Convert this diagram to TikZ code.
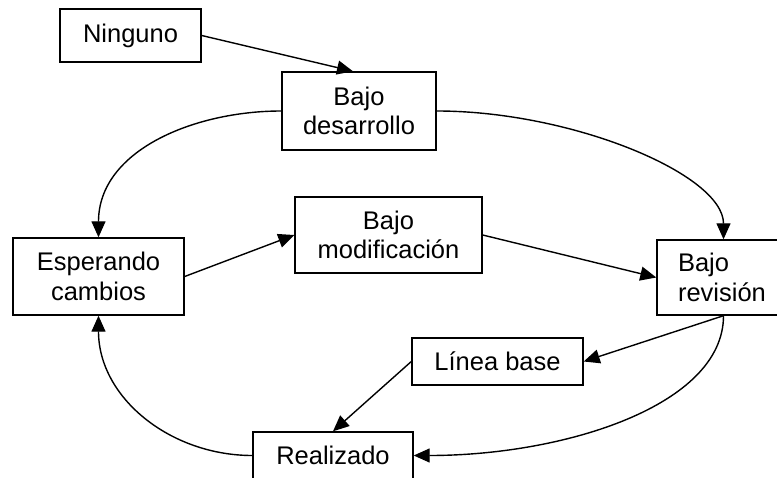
\documentclass[tikz,border=0pt]{standalone}
\usepackage{fontspec}
\setmainfont{Liberation Sans}
\usetikzlibrary{arrows.meta}
\begin{document}
\begin{tikzpicture}[x=1bp, y=-1bp,
  state/.style={draw, line width=1.4bp, inner sep=0pt, align=center,
    font=\fontsize{25.5bp}{29.5bp}\selectfont},
  link/.style={line width=1.4bp, -{Triangle[length=16bp,width=14bp]}}]
\useasboundingbox (0,0) rectangle (777,478);
\clip (0,0) rectangle (777,478);

% states
\node[state, minimum width=141bp, minimum height=53bp] (nin) at (130.5,35.5) {Ninguno};
\node[state, minimum width=154bp, minimum height=78bp] (des) at (359,111) {Bajo\\desarrollo};
\node[state, minimum width=171bp, minimum height=77bp] (esp) at (98.5,276.5) {Esperando\\cambios};
\node[state, minimum width=187bp, minimum height=76bp] (mod) at (388.5,235) {Bajo\\modificación};
\node[state, align=left, inner xsep=21bp, text width=91bp, minimum height=75bp] (rev) at (723.5,277.5) {Bajo\\revisión};
\node[state, minimum width=171bp, minimum height=47bp] (lin) at (497.5,361.5) {Línea base};
\node[state, minimum width=160bp, minimum height=47bp] (rea) at (333,455.5) {Realizado};

% transitions
\draw[link] (nin.east) -- ([xshift=-6bp]des.north);
\draw[link] (des.west) .. controls +(-87,0) and +(0,-87) .. (esp.north);
\draw[link] (des.east) .. controls +(135,0) and +(0,-65) .. (rev.north);
\draw[link] (esp.east) -- (mod.west);
\draw[link] (mod.east) -- (rev.west);
\draw[link] (rev.south) -- (lin.east);
\draw[link] (rev.south) .. controls +(0,90) and +(150,0) .. (rea.east);
\draw[link] (lin.west) -- (rea.north);
\draw[link] (rea.west) .. controls +(-82,0) and +(0,82) .. (esp.south);
\end{tikzpicture}
\end{document}
